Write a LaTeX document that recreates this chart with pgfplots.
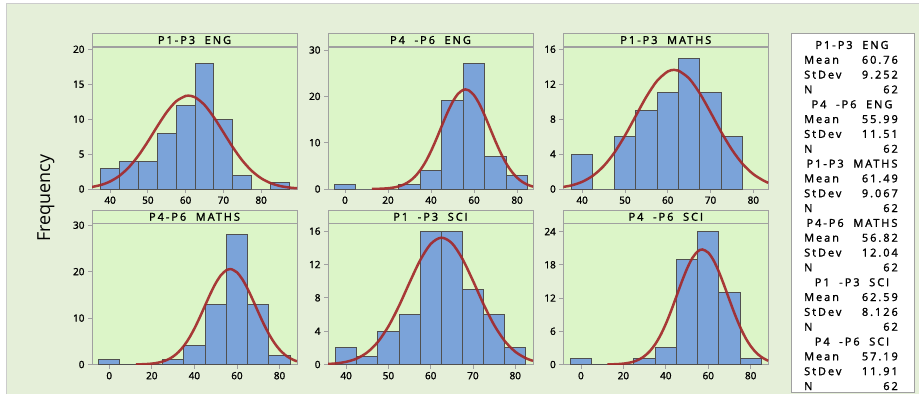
\documentclass[border=0pt]{standalone}
\usepackage{pgfplots}
\pgfplotsset{compat=1.18}
\usepackage{fontspec}
\setmainfont{Open Sans}
\newfontfamily\tf{Open Sans}[FakeBold=1.6]
\newfontfamily\lf{Open Sans}[FakeBold=1.6, LetterSpace=18]
\definecolor{outerbg}{HTML}{E5EFD9}
\definecolor{panelbg}{HTML}{DCF5C8}
\definecolor{barblue}{HTML}{7BA3D9}
\definecolor{barline}{HTML}{505050}
\definecolor{curvered}{HTML}{A3292B}
\definecolor{framegray}{HTML}{A0A0A0}
\pgfplotsset{
  hist/.style={
    scale only axis, width=205bp, anchor=south west,
    axis background/.style={fill=panelbg},
    axis line style={draw=framegray, line width=0.9bp},
    ymin=0, enlargelimits=false,
    tick pos=left, tick align=outside,
    major tick length=4bp,
    every tick/.append style={draw=framegray, line width=0.8bp},
    tick label style={font=\tf\fontsize{10}{11}\selectfont, text=black},
    /pgf/number format/assume math mode=true,
    every axis title/.style={at={(0.5,1)}, anchor=south, draw=framegray, line width=0.9bp,
      fill=panelbg, minimum width=205bp, minimum height=13bp, inner sep=0pt,
      font=\lf\fontsize{11}{12}\selectfont},
  },
  bars/.style={ybar, bar shift=0pt, fill=barblue, draw=barline, line width=1bp},
  nc/.style={smooth, no marks, draw=curvered, line width=2.5bp, opacity=0.92},
}
\begin{document}
\begin{tikzpicture}[x=1bp,y=1bp]
\useasboundingbox (0,0) rectangle (919,394);
\fill[white] (0,0) rectangle (919,394);
\fill[outerbg] (6,0) rectangle (919,390);
\draw[black!20, line width=1bp] (6,0) -- (6,390) -- (919,390);
\node[rotate=90, font=\fontsize{18}{19}\selectfont] at (46,196) {Frequency};

% ---------- P1-P3 ENG ----------
\begin{axis}[hist, at={(92bp,205bp)}, height=142bp,
  xmin=35.2, xmax=89.5, ymax=20.33,
  xtick={40,50,60,70,80}, ytick={0,5,10,15,20}, title={P1-P3\ \ ENG}]
\addplot[bars, bar width=5] coordinates {(40,3)(45,4)(50,4)(55,8)(60,12)(65,18)(70,10)(75,2)(80,0)(85,1)};
\addplot[nc] coordinates {(35,0.277)(37.5,0.567)(40,1.079)(42.5,1.907)(45,3.133)(47.5,4.787)(50,6.797)(52.5,8.973)(55,11.012)(57.5,12.562)(60,13.322)(60.76,13.367)(62.5,13.133)(65,12.034)(67.5,10.251)(70,8.118)(72.5,5.976)(75,4.089)(77.5,2.602)(80,1.538)(82.5,0.845)(85,0.432)(87.5,0.205)(89.5,0.107)};
\end{axis}

% ---------- P4 -P6 ENG ----------
\begin{axis}[hist, at={(328bp,205bp)}, height=142bp,
  xmin=-7.9, xmax=87.4, ymax=30.65,
  xtick={0,20,40,60,80}, ytick={0,10,20,30}, title={P4\ \ -P6\ \ ENG}]
\addplot[bars, bar width=10] coordinates {(0,1)(10,0)(20,0)(30,1)(40,4)(50,19)(60,27)(70,7)(80,3)};
\addplot[nc] coordinates {(12.5,0.017)(15,0.038)(17.5,0.080)(20,0.162)(22.5,0.312)(25,0.573)(27.5,1.004)(30,1.679)(32.5,2.678)(35,4.075)(37.5,5.914)(40,8.188)(42.5,10.813)(45,13.623)(47.5,16.371)(50,18.769)(52.5,20.524)(55,21.411)(56,21.490)(57.5,21.306)(60,20.225)(62.5,18.313)(65,15.818)(67.5,13.034)(70,10.245)(72.5,7.681)(75,5.494)(77.5,3.748)(80,2.440)(82.5,1.514)(85,0.897)(87.5,0.507)};
\end{axis}

% ---------- P1-P3 MATHS ----------
\begin{axis}[hist, at={(563.3bp,205bp)}, height=142bp,
  xmin=35.6, xmax=83.5, ymax=16.26,
  xtick={40,50,60,70,80}, ytick={0,4,8,12,16}, title={P1-P3\ \ MATHS}]
\addplot[bars, bar width=5] coordinates {(40,4)(45,0)(50,6)(55,9)(60,11)(65,15)(70,11)(75,6)};
\addplot[nc] coordinates {(35,0.191)(37.5,0.412)(40,0.822)(42.5,1.522)(45,2.610)(47.5,4.148)(50,6.111)(52.5,8.343)(55,10.557)(57.5,12.381)(60,13.457)(61.5,13.640)(62.5,13.556)(65,12.655)(67.5,10.950)(70,8.780)(72.5,6.526)(75,4.495)(77.5,2.870)(80,1.697)(82.5,0.931)(83.5,0.717)};
\end{axis}

% ---------- P4-P6 MATHS ----------
\begin{axis}[hist, at={(92bp,29.5bp)}, height=141bp,
  xmin=-8.1, xmax=88.2, ymax=30.37,
  xtick={0,20,40,60,80}, ytick={0,10,20,30}, title={P4-P6\ \ MATHS},
  title style={minimum height=12.5bp}]
\addplot[bars, bar width=10] coordinates {(0,1)(10,0)(20,0)(30,1)(40,4)(50,13)(60,28)(70,13)(80,2)};
\addplot[nc] coordinates {(12.5,0.023)(15,0.049)(17.5,0.099)(20,0.191)(22.5,0.353)(25,0.625)(27.5,1.059)(30,1.719)(32.5,2.671)(35,3.977)(37.5,5.670)(40,7.743)(42.5,10.127)(45,12.689)(47.5,15.225)(50,17.499)(52.5,19.264)(55,20.311)(56.8,20.544)(57.5,20.511)(60,19.839)(62.5,18.380)(65,16.310)(67.5,13.863)(70,11.284)(72.5,8.798)(75,6.570)(77.5,4.699)(80,3.220)(82.5,2.113)(85,1.328)(87.5,0.799)(88.2,0.688)};
\end{axis}

% ---------- P1 -P3 SCI ----------
\begin{axis}[hist, at={(328bp,29.5bp)}, height=141bp,
  xmin=35.7, xmax=84.2, ymax=16.92,
  xtick={40,50,60,70,80}, ytick={0,4,8,12,16}, title={P1\ \ -P3\ \ SCI},
  title style={minimum height=12.5bp}]
\addplot[bars, bar width=5] coordinates {(40,2)(45,1)(50,4)(55,6)(60,16)(65,16)(70,9)(75,6)(80,2)};
\addplot[nc] coordinates {(35.7,0.064)(37.5,0.129)(40,0.319)(42.5,0.716)(45,1.462)(47.5,2.714)(50,4.582)(52.5,7.040)(55,9.839)(57.5,12.508)(60,14.465)(62.5,15.218)(65,14.564)(67.5,12.680)(70,10.042)(72.5,7.235)(75,4.741)(77.5,2.827)(80,1.533)(82.5,0.756)(84.2,0.443)};
\end{axis}

% ---------- P4 -P6 SCI ----------
\begin{axis}[hist, at={(563.3bp,29.5bp)}, height=141bp,
  xmin=-8.3, xmax=88.3, ymax=25.46,
  xtick={0,20,40,60,80}, ytick={0,6,12,18,24}, title={P4\ \ -P6\ \ SCI},
  title style={minimum height=12.5bp}]
\addplot[bars, bar width=10] coordinates {(0,1)(10,0)(20,0)(30,1)(40,3)(50,19)(60,24)(70,13)(80,1)};
\addplot[nc] coordinates {(12.5,0.018)(15,0.039)(17.5,0.081)(20,0.158)(22.5,0.299)(25,0.538)(27.5,0.929)(30,1.533)(32.5,2.422)(35,3.662)(37.5,5.295)(40,7.329)(42.5,9.706)(45,12.300)(47.5,14.916)(50,17.309)(52.5,19.219)(55,20.420)(57.2,20.768)(60,20.198)(62.5,18.803)(65,16.750)(67.5,14.277)(70,11.646)(72.5,9.090)(75,6.790)(77.5,4.852)(80,3.318)(82.5,2.172)(85,1.360)(87.5,0.815)(88.3,0.685)};
\end{axis}

% ---------- legend box ----------
\draw[framegray, fill=white, line width=0.9bp] (791,2) rectangle (914,361);
\begin{scope}[every node/.style={font=\lf\fontsize{11}{12}\selectfont, inner sep=0pt}]
\foreach \t/\m/\s [count=\i from 0] in {P1-P3\ \ ENG/60.76/9.252, P4\ \ -P6\ \ ENG/55.99/11.51, P1-P3\ \ MATHS/61.49/9.067, P4-P6\ \ MATHS/56.82/12.04, P1\ \ -P3\ \ SCI/62.59/8.126, P4\ \ -P6\ \ SCI/57.19/11.91}{
  \pgfmathsetmacro{\yy}{349-4*14.83*\i}
  \node at (852,\yy) {\t};
  \node[anchor=west] at (804,\yy-14.83) {Mean};
  \node[anchor=east] at (898,\yy-14.83) {\m};
  \node[anchor=west] at (804,\yy-29.66) {StDev};
  \node[anchor=east] at (898,\yy-29.66) {\s};
  \node[anchor=west] at (804,\yy-44.49) {N};
  \node[anchor=east] at (898,\yy-44.49) {62};
}
\end{scope}
\end{tikzpicture}
\end{document}
